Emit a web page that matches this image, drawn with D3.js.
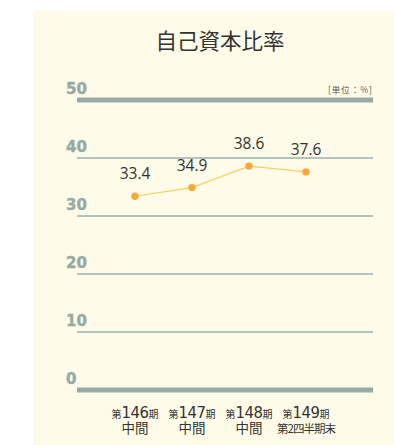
<!DOCTYPE html>
<html><head><meta charset="utf-8">
<script src="https://cdn.jsdelivr.net/npm/d3@7/dist/d3.min.js"></script>
<style>
html,body{margin:0;padding:0;background:#fff;}
svg{display:block;}
</style></head>
<body>
<script>
const categories = ["第146期中間", "第147期中間", "第148期中間", "第149期第2四半期末"];
const catNumbers = ["146", "147", "148", "149"];
const catSecond = ["中間", "中間", "中間", "第2四半期末"];
const values = [33.4, 34.9, 38.6, 37.6];
const yTicks = [0, 10, 20, 30, 40, 50];
const title = "自己資本比率";
const unit = "[単位：%]";

const W = 394, H = 445;
const svg = d3.select("body").append("svg").attr("width", W).attr("height", H);
svg.append("rect").attr("x", 33).attr("y", 11).attr("width", W - 33).attr("height", H - 11).attr("fill", "#fefce9");

const jp = "'Noto Sans CJK JP', sans-serif";
const y = d3.scaleLinear().domain([0, 50]).range([390, 100]);
const x = d3.scalePoint().domain(categories).range([78, 363]).padding(1);

// title
svg.append("text").attr("x", 220).attr("y", 49).attr("text-anchor", "middle")
  .attr("font-family", jp).attr("font-size", 21.5).attr("fill", "#333").text(title);

// unit
svg.append("text").attr("x", 373).attr("y", 93).attr("text-anchor", "end")
  .attr("font-family", jp).attr("font-size", 8.5).attr("fill", "#555").attr("letter-spacing", 1).text(unit);

// grid
const g = svg.append("g");
g.selectAll("line.grid").data(yTicks).enter().append("line")
  .attr("x1", 77).attr("x2", 373)
  .attr("y1", d => y(d)).attr("y2", d => y(d))
  .attr("stroke", d => (d === 0 || d === 50) ? "#97aaa6" : "#9bb0ae")
  .attr("stroke-width", d => (d === 0 || d === 50) ? 5 : 1.3);
g.selectAll("text.tick").data(yTicks).enter().append("text")
  .attr("x", 66).attr("y", d => y(d) - 6)
  .attr("font-family", "'DejaVu Sans', sans-serif").attr("font-weight", "bold")
  .attr("font-size", 15).attr("fill", "#95aba6").attr("stroke", "#95aba6").attr("stroke-width", 0.4)
  .text(d => d);

// line
const line = d3.line().x((d, i) => x(categories[i])).y(d => y(d));
svg.append("path").datum(values).attr("d", line).attr("fill", "none")
  .attr("stroke", "#f8cf5e").attr("stroke-width", 1.2);
svg.selectAll("circle.pt").data(values).enter().append("circle")
  .attr("cx", (d, i) => x(categories[i])).attr("cy", d => y(d)).attr("r", 3.7)
  .attr("fill", "#f6a83a");
svg.selectAll("text.val").data(values).enter().append("text")
  .attr("x", (d, i) => x(categories[i])).attr("y", d => y(d) - 17)
  .attr("text-anchor", "middle").attr("font-family", "'Open Sans', sans-serif")
  .attr("font-size", 15.5).attr("fill", "#333").text(d => d.toFixed(1));

// x labels
const xl = svg.selectAll("g.xl").data(categories).enter().append("g")
  .attr("transform", d => `translate(${x(d)},0)`);
const t1 = xl.append("text").attr("y", 418).attr("text-anchor", "middle")
  .attr("font-family", jp).attr("fill", "#333");
t1.append("tspan").attr("font-size", 10).text("第");
t1.append("tspan").attr("font-size", 16.5).attr("font-family", "'Liberation Sans Narrow', 'DejaVu Sans Condensed', sans-serif")
  .attr("letter-spacing", -0.5).text((d, i) => catNumbers[i]);
t1.append("tspan").attr("font-size", 10).text("期");
xl.append("text").attr("y", 433).attr("text-anchor", "middle")
  .attr("font-family", jp).attr("fill", "#333")
  .attr("font-size", (d, i) => catSecond[i].length > 2 ? 11.5 : 13.5)
  .attr("letter-spacing", (d, i) => catSecond[i].length > 2 ? -1 : 0)
  .text((d, i) => catSecond[i]);
</script>
</body></html>
